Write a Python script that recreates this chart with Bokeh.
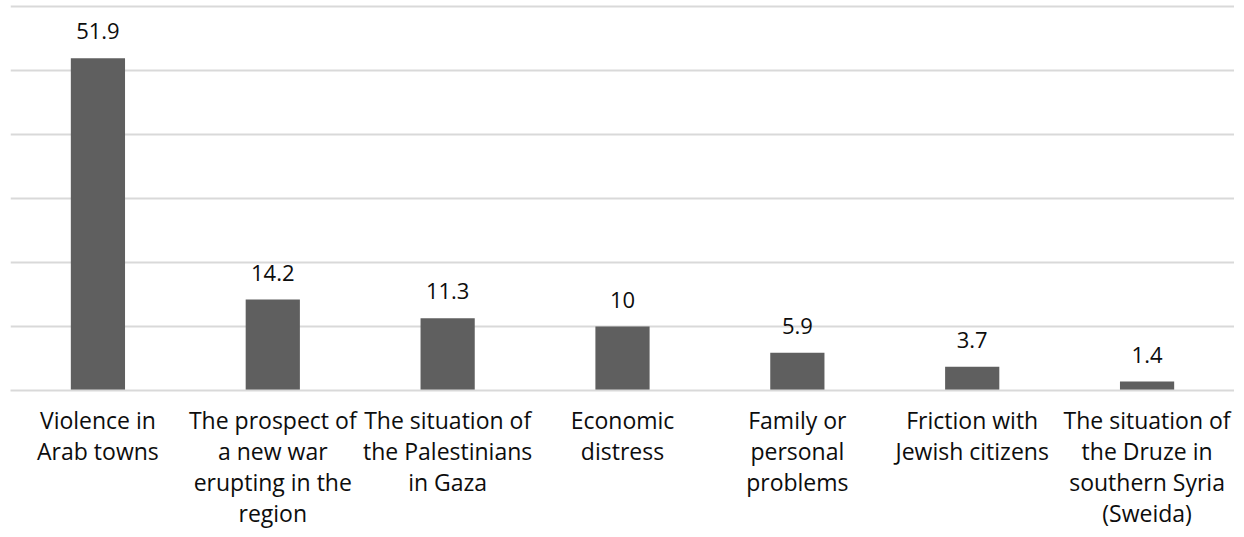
from bokeh.plotting import figure
from bokeh.models import ColumnDataSource, FixedTicker, LabelSet
from bokeh.core.properties import value
from bokeh.embed import file_html
from bokeh.resources import INLINE

categories = [
    "Violence in\nArab towns",
    "The prospect of\na new war\nerupting in the\nregion",
    "The situation of\nthe Palestinians\nin Gaza",
    "Economic\ndistress",
    "Family or\npersonal\nproblems",
    "Friction with\nJewish citizens",
    "The situation of\nthe Druze in\nsouthern Syria\n(Sweida)",
]
values = [51.9, 14.2, 11.3, 10, 5.9, 3.7, 1.4]
value_labels = ["51.9", "14.2", "11.3", "10", "5.9", "3.7", "1.4"]
y_ticks = [0, 10, 20, 30, 40, 50, 60]

src = ColumnDataSource(dict(cat=categories, val=values, lab=value_labels))

p = figure(x_range=categories, y_range=(0, 60.3125), width=1234, height=537,
           output_backend="svg", toolbar_location=None,
           min_border_left=10, min_border_right=0, min_border_top=4,
           min_border_bottom=147, outline_line_color=None)

p.vbar(x="cat", top="val", width=0.31, source=src, fill_color="#5f5f5f", line_color=None)

labels = LabelSet(x="cat", y="val", text="lab", source=src, text_align="center",
                  text_baseline="alphabetic", y_offset=19, text_font=value("Open Sans"),
                  text_font_size=value("22px"), text_color="#0d0d0d")
p.add_layout(labels)

p.yaxis.visible = False
p.ygrid.ticker = FixedTicker(ticks=y_ticks)
p.ygrid.grid_line_color = "#d9d9d9"
p.ygrid.grid_line_width = 2
p.xgrid.grid_line_color = None

p.xaxis.axis_line_color = "#d9d9d9"
p.xaxis.axis_line_width = 2
p.xaxis.major_tick_line_color = None
p.xaxis.minor_tick_line_color = None
p.xaxis.major_label_standoff = 7
p.xaxis.major_label_text_font = "Open Sans"
p.xaxis.major_label_text_font_size = "23px"
p.xaxis.major_label_text_color = "#0d0d0d"
p.xaxis.major_label_text_line_height = 0.97

open("out.html", "w").write(file_html(p, INLINE))
